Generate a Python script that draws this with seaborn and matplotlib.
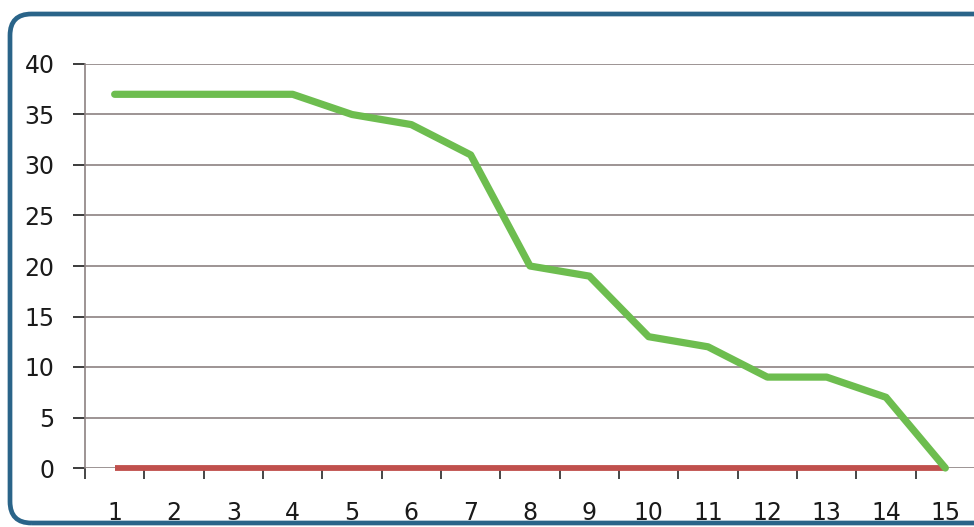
import matplotlib
matplotlib.use("Agg")
import matplotlib.pyplot as plt
from matplotlib.patches import FancyBboxPatch
from matplotlib.ticker import FixedLocator
import seaborn as sns
import pandas as pd

# Iteration days and remaining work
days = list(range(1, 16))
remaining = [37, 37, 37, 37, 35, 34, 31, 20, 19, 13, 12, 9, 9, 7, 0]
baseline = [0] * 15
y_ticks = [0, 5, 10, 15, 20, 25, 30, 35, 40]

sns.set_style("white")
plt.rcParams["font.family"] = ["DejaVu Sans"]

W, H = 974, 527
fig = plt.figure(figsize=(W / 100, H / 100), dpi=100)
fig.patch.set_facecolor("white")

# rounded frame around the chart, running off the right edge
frame = FancyBboxPatch((10 / W, 4 / H), 1000 / W, 509 / H,
                       boxstyle="round,pad=0,rounding_size=0.022",
                       transform=fig.transFigure, facecolor="none",
                       edgecolor="#2a6489", linewidth=3.4, clip_on=False,
                       mutation_aspect=W / H, zorder=-1)
fig.patches.append(frame)

left, right = 85, 975
top, bottom = 64, 468
ax = fig.add_axes([left / W, (H - bottom) / H, (right - left) / W, (bottom - top) / H])
ax.set_facecolor("none")

df = pd.DataFrame({"day": days, "remaining": remaining, "baseline": baseline})
sns.lineplot(data=df, x="day", y="baseline", ax=ax, color="#c0504d",
             linewidth=4.2, solid_capstyle="butt", zorder=3, clip_on=False)
sns.lineplot(data=df, x="day", y="remaining", ax=ax, color="#6dbd4f",
             linewidth=5.2, solid_capstyle="round", solid_joinstyle="round",
             zorder=4, clip_on=False)

ax.set_xlim(0.5, 15.5)
ax.set_ylim(0, 40)
ax.set_xlabel("")
ax.set_ylabel("")

grid_col = "#8c8282"
text_col = "#1a1a1a"
ax.yaxis.set_major_locator(FixedLocator(y_ticks))
for y in y_ticks:
    ax.axhline(y, color=grid_col, linewidth=1.2, zorder=1)

ax.set_xticks(days)
ax.set_xticklabels([str(d) for d in days])
ax.xaxis.set_minor_locator(FixedLocator([d + 0.5 for d in range(0, 15)]))
ax.tick_params(axis="x", which="both", bottom=True)
ax.tick_params(axis="x", which="major", length=0, pad=24, labelsize=17, colors=text_col)
ax.tick_params(axis="x", which="minor", length=8, width=1.2, direction="out")
ax.tick_params(axis="y", which="major", left=True, length=9, width=1.2, direction="out",
               pad=13, labelsize=17, colors=text_col)
for t in ax.yaxis.get_ticklines():
    t.set_color(grid_col)
for t in ax.xaxis.get_minorticklines():
    t.set_color(grid_col)

for s in ["top", "right", "bottom"]:
    ax.spines[s].set_visible(False)
ax.spines["left"].set_color(grid_col)
ax.spines["left"].set_linewidth(1.2)
ax.spines["left"].set_bounds(0, 40)

fig.savefig("out.png", dpi=100, facecolor="white")
